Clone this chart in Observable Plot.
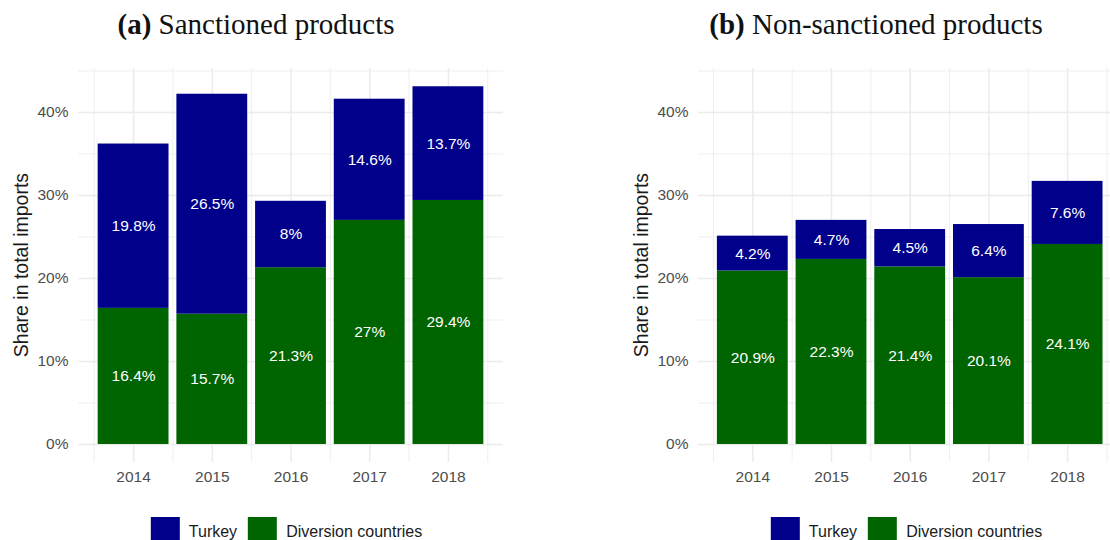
<!DOCTYPE html>
<html>
<head>
<meta charset="utf-8">
<script src="https://cdn.jsdelivr.net/npm/d3@7"></script>
<script src="https://cdn.jsdelivr.net/npm/@observablehq/plot@0.6"></script>
<style>
  body { margin: 0; background: #fff; width: 1110px; height: 540px; overflow: hidden; position: relative;
         font-family: "Liberation Sans", Arial, sans-serif; }
  .title { position: absolute; top: 8px; font-family: "Liberation Serif", serif; font-size: 29px; color: #111;
           white-space: nowrap; transform: translateX(-50%); }
  .chart { position: absolute; top: 55px; }
  .ylab { position: absolute; top: 265px; font-size: 19.5px; color: #1a1a1a; white-space: nowrap;
          transform: translate(-50%, -50%) rotate(-90deg); }
  .legend { position: absolute; top: 517px; display: flex; align-items: center; font-size: 16px; color: #1a1a1a;
            transform: translateX(-50%); white-space: nowrap; }
  .legend .sw { width: 29px; height: 29px; margin-right: 9px; }
  .legend .lab { margin-right: 11px; }
</style>
</head>
<body>
<script>
const years = [2014, 2015, 2016, 2017, 2018];
const groups = ["Turkey", "Diversion countries"];
const colors = ["#00008b", "#006400"];

const sanctionedTurkey = [19.8, 26.5, 8, 14.6, 13.7];
const sanctionedDiversion = [16.4, 15.7, 21.3, 27, 29.4];
const nonSanctionedTurkey = [4.2, 4.7, 4.5, 6.4, 7.6];
const nonSanctionedDiversion = [20.9, 22.3, 21.4, 20.1, 24.1];

const yTicks = [0, 10, 20, 30, 40];
const yMinor = [5, 15, 25, 35, 45];
const xMinor = [2013.5, 2014.5, 2015.5, 2016.5, 2017.5, 2018.5];

function stackRows(turkey, diversion) {
  const rows = [];
  years.forEach((year, i) => {
    rows.push({ year, group: "Diversion countries", value: diversion[i], lo: 0, hi: diversion[i] });
    rows.push({ year, group: "Turkey", value: turkey[i], lo: diversion[i], hi: diversion[i] + turkey[i] });
  });
  return rows;
}

function drawPanel({ left, marginLeft, marginRight, xDomain, rows, tag, title, titleX, ylabX, legendX }) {
  const grid = "#ebebeb";
  const chart = Plot.plot({
    width: 555,
    height: 442,
    marginTop: 13,
    marginBottom: 35,
    marginLeft,
    marginRight,
    style: { fontFamily: "Liberation Sans, Arial, sans-serif", fontSize: "15.5px", color: "#4d4d4d", background: "transparent" },
    x: { type: "linear", domain: xDomain, axis: null },
    y: { domain: [-2.17, 45.3], axis: null },
    color: { domain: groups, range: colors },
    marks: [
      Plot.ruleY(yMinor, { stroke: grid, strokeWidth: 0.8 }),
      Plot.ruleY(yTicks, { stroke: grid, strokeWidth: 1.5 }),
      Plot.ruleX(xMinor, { stroke: grid, strokeWidth: 0.8 }),
      Plot.ruleX(years, { stroke: grid, strokeWidth: 1.5 }),
      Plot.rectY(rows, {
        x1: (d) => d.year - 0.45,
        x2: (d) => d.year + 0.45,
        y1: "lo",
        y2: "hi",
        fill: "group",
      }),
      Plot.text(rows, {
        x: "year",
        y: (d) => (d.lo + d.hi) / 2,
        text: (d) => d.value + "%",
        fill: "white",
        fontSize: 15.5,
      }),
      Plot.axisY(yTicks, { tickSize: 0, tickPadding: 10, tickFormat: (d) => d + "%", label: null, fontSize: 15.5 }),
      Plot.axisX(years, { tickSize: 0, tickPadding: 8, tickFormat: (d) => String(d), label: null, fontSize: 15.5 }),
    ],
  });
  chart.classList.add("chart");
  chart.style.left = left + "px";
  document.body.appendChild(chart);

  const t = document.createElement("div");
  t.className = "title";
  t.style.left = titleX + "px";
  t.innerHTML = "<b>" + tag + "</b> " + title;
  document.body.appendChild(t);

  const yl = document.createElement("div");
  yl.className = "ylab";
  yl.style.left = ylabX + "px";
  yl.textContent = "Share in total imports";
  document.body.appendChild(yl);

  const lg = document.createElement("div");
  lg.className = "legend";
  lg.style.left = legendX + "px";
  groups.forEach((g, i) => {
    const sw = document.createElement("div");
    sw.className = "sw";
    sw.style.background = colors[i];
    const lb = document.createElement("span");
    lb.className = "lab";
    lb.textContent = g;
    lg.appendChild(sw);
    lg.appendChild(lb);
  });
  document.body.appendChild(lg);
}

drawPanel({
  left: 0, marginLeft: 78, marginRight: 52, xDomain: [2013.3, 2018.7],
  rows: stackRows(sanctionedTurkey, sanctionedDiversion),
  tag: "(a)", title: "Sanctioned products", titleX: 256, ylabX: 21, legendX: 292,
});

drawPanel({
  left: 555, marginLeft: 143, marginRight: 0, xDomain: [2013.31, 2018.545],
  rows: stackRows(nonSanctionedTurkey, nonSanctionedDiversion),
  tag: "(b)", title: "Non-sanctioned products", titleX: 876, ylabX: 641, legendX: 912,
});
</script>
</body>
</html>
